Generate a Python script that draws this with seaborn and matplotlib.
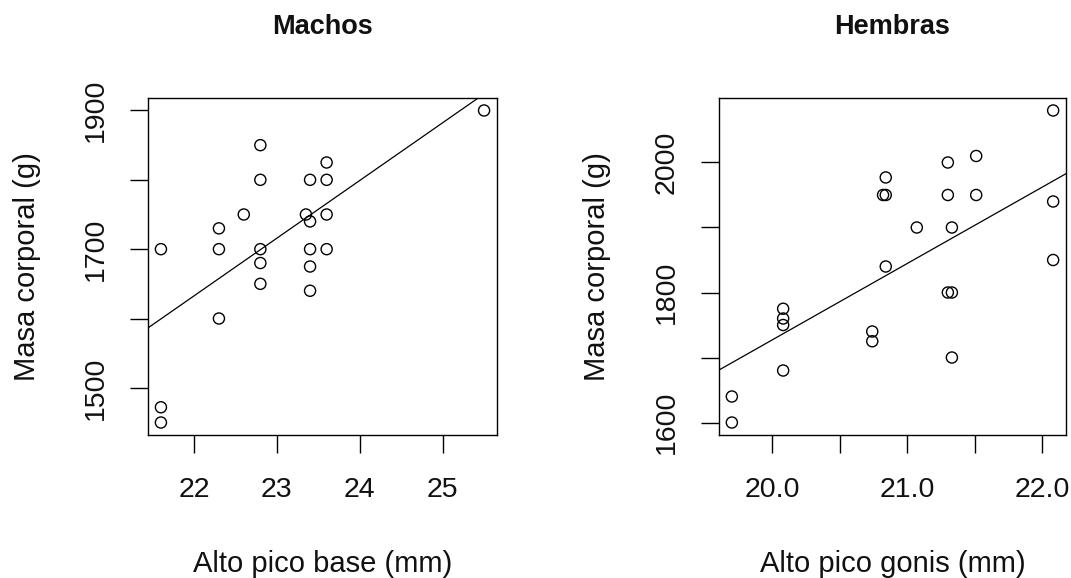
import numpy as np
import pandas as pd
import matplotlib
matplotlib.use("Agg")
import matplotlib.pyplot as plt
import seaborn as sns

# Males: bill height at base (mm) vs body mass (g)
machos_alto = [21.6, 21.6, 21.6, 22.3, 22.3, 22.3, 22.6,
               22.8, 22.8, 22.8, 22.8, 22.8, 23.35,
               23.4, 23.4, 23.4, 23.4, 23.4,
               23.6, 23.6, 23.6, 23.6, 25.5]
machos_masa = [1700, 1472, 1450, 1730, 1700, 1600, 1750,
               1850, 1800, 1700, 1680, 1650, 1750,
               1740, 1800, 1700, 1675, 1640,
               1825, 1800, 1750, 1700, 1900]
# fitted line for males: [intercept, slope]
machos_recta = [-197.7, 83.2]

# Females: bill height at gonys (mm) vs body mass (g)
hembras_alto = [19.7, 19.7, 20.08, 20.08, 20.08, 20.08,
                20.74, 20.74, 20.84, 20.82, 20.84, 20.84,
                21.07, 21.3, 21.3, 21.33, 21.3, 21.33, 21.33,
                21.51, 21.51, 22.08, 22.08, 22.08]
hembras_masa = [1600, 1640, 1680, 1775, 1760, 1750,
                1740, 1725, 1977, 1950, 1950, 1840,
                1900, 2000, 1950, 1900, 1800, 1800, 1700,
                2010, 1950, 2080, 1940, 1850]
# fitted line for females: [intercept, slope]
hembras_recta = [-622.8, 117.5]

x_ticks_m = [22, 23, 24, 25]
x_labels_m = ["22", "23", "24", "25"]
y_ticks_m = [1500, 1600, 1700, 1800, 1900]
y_labels_m = ["1500", "", "1700", "", "1900"]

x_ticks_h = [20.0, 20.5, 21.0, 21.5, 22.0]
x_labels_h = ["20.0", "", "21.0", "", "22.0"]
y_ticks_h = [1600, 1700, 1800, 1900, 2000]
y_labels_h = ["1600", "", "1800", "", "2000"]

sns.set_style("white")
plt.rcParams["font.family"] = ["Liberation Sans", "DejaVu Sans"]

W, H = 1071, 578
fig = plt.figure(figsize=(W / 100, H / 100), dpi=100)


def panel(rect, x, y, recta, title, xlabel, xt, xtl, yt, ytl):
    ax = fig.add_axes(rect)
    df = pd.DataFrame({"x": x, "y": y})
    sns.scatterplot(data=df, x="x", y="y", ax=ax, s=64, marker="o",
                    linewidth=1.0, legend=False)
    pts = ax.collections[-1]
    pts.set_facecolor("none")
    pts.set_edgecolor("black")

    # regression line spanning the whole panel
    intercept, slope = recta
    ax.axline((0, intercept), slope=slope, color="black", lw=0.9)

    xr = df["x"].max() - df["x"].min()
    yr = df["y"].max() - df["y"].min()
    ax.set_xlim(df["x"].min() - 0.04 * xr, df["x"].max() + 0.04 * xr)
    ax.set_ylim(df["y"].min() - 0.04 * yr, df["y"].max() + 0.04 * yr)

    ax.set_xticks(xt)
    ax.set_xticklabels(xtl)
    ax.set_yticks(yt)
    ax.set_yticklabels(ytl, rotation=90, va="center")
    ax.tick_params(axis="both", direction="out", length=13, width=1.0,
                   color="black", labelsize=20.5, labelcolor="#111111",
                   left=True, bottom=True)
    ax.tick_params(axis="x", pad=17)
    ax.tick_params(axis="y", pad=15)
    for sp in ax.spines.values():
        sp.set_visible(True)
        sp.set_color("black")
        sp.set_linewidth(1.0)

    ax.set_title(title, fontsize=19.5, fontweight="bold", y=1.19, pad=0,
                 va="baseline", color="#111111")
    ax.set_xlabel(xlabel, fontsize=21, va="baseline", color="#111111")
    ax.xaxis.set_label_coords(0.5, -0.408)
    ax.set_ylabel("Masa corporal (g)", fontsize=21, va="center",
                  color="#111111")
    return ax


top, bottom = 98, 435
h = (bottom - top) / H
b = 1 - bottom / H

ax1 = panel([148 / W, b, (497 - 148) / W, h], machos_alto, machos_masa,
            machos_recta, "Machos", "Alto pico base (mm)",
            x_ticks_m, x_labels_m, y_ticks_m, y_labels_m)
ax1.yaxis.set_label_coords((27 - 148) / (497 - 148), 0.5)

ax2 = panel([719 / W, b, (1066 - 719) / W, h], hembras_alto, hembras_masa,
            hembras_recta, "Hembras", "Alto pico gonis (mm)",
            x_ticks_h, x_labels_h, y_ticks_h, y_labels_h)
ax2.yaxis.set_label_coords((597 - 719) / (1066 - 719), 0.5)

fig.savefig("out.png", dpi=100, facecolor="white")
